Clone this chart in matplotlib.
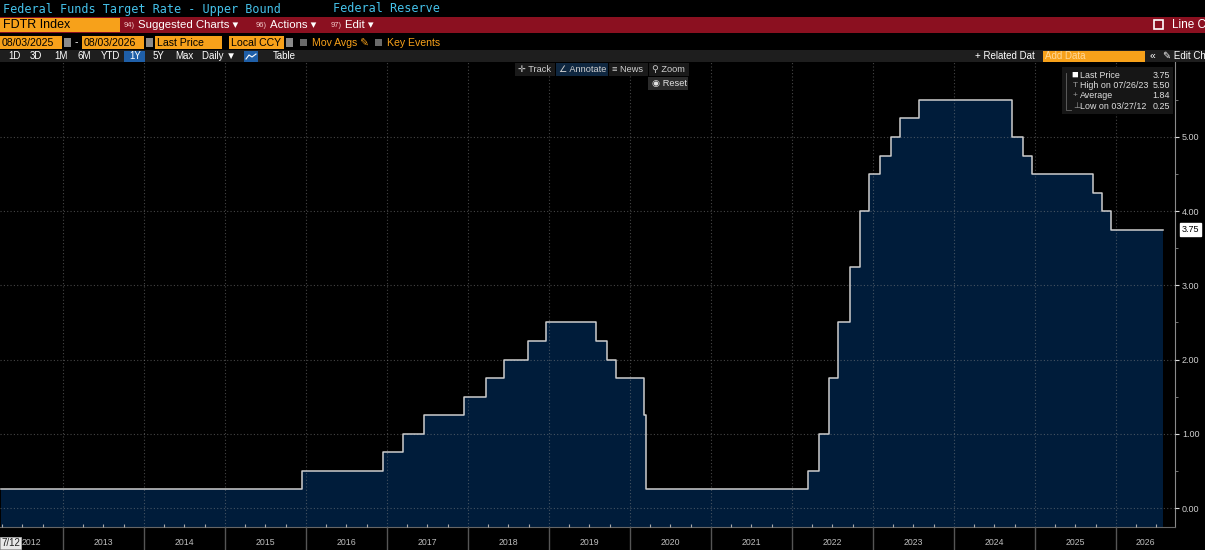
import numpy as np
import matplotlib
matplotlib.use("Agg")
import matplotlib.pyplot as plt
import matplotlib.dates as mdates
from matplotlib.patches import Rectangle
from matplotlib.ticker import NullFormatter, FixedLocator, FormatStrFormatter
from matplotlib.transforms import blended_transform_factory

plt.rcParams['font.family'] = ['Liberation Sans', 'DejaVu Sans']

# FDTR Index (upper bound): date of each change and the new level
change_dates = ["2012-03-27", "2015-12-16", "2016-12-14", "2017-03-15", "2017-06-14",
                "2017-12-13", "2018-03-21", "2018-06-13", "2018-09-26", "2018-12-19",
                "2019-07-31", "2019-09-18", "2019-10-30", "2020-03-03", "2020-03-15",
                "2022-03-16", "2022-05-04", "2022-06-15", "2022-07-27", "2022-09-21",
                "2022-11-02", "2022-12-14", "2023-02-01", "2023-03-22", "2023-05-03",
                "2023-07-26", "2024-09-18", "2024-11-07", "2024-12-18", "2025-09-17",
                "2025-10-29", "2025-12-10"]
rates = [0.25, 0.50, 0.75, 1.00, 1.25,
         1.50, 1.75, 2.00, 2.25, 2.50,
         2.25, 2.00, 1.75, 1.25, 0.25,
         0.50, 1.00, 1.75, 2.50, 3.25,
         4.00, 4.50, 4.75, 5.00, 5.25,
         5.50, 5.00, 4.75, 4.50, 4.25,
         4.00, 3.75]
end_date = "2026-08-03"

year_labels = list(range(2012, 2027))
y_ticks = [0, 1, 2, 3, 4, 5]

legend_rows = [("Last Price", "3.75"), ("High on 07/26/23", "5.50"),
               ("Average", "1.84"), ("Low on 03/27/12", "0.25")]
last_price = 3.75

W, H = 1205, 550
CYAN = '#45c2ea'
ORANGE = '#f7a11a'
RED = '#8b1020'

fig = plt.figure(figsize=(W / 100, H / 100), dpi=100, facecolor='black')

# ---- main chart ----
ax = fig.add_axes([0, (H - 527) / H, 1175 / W, (527 - 62) / H])
ax.set_facecolor('black')

x = mdates.date2num(np.array(change_dates + [end_date], dtype='datetime64[D]'))
y = np.array(rates + [rates[-1]])
ax.fill_between(x, y, -1, step='post', color='#001c3a', lw=0, zorder=1)
ax.step(x, y, where='post', color='#cdcdcd', lw=1.1, zorder=3)

x0 = mdates.datestr2num('2012-03-22')
x1 = mdates.datestr2num('2026-09-24')
ax.set_xlim(x0, x1)
ax.set_ylim(-0.256, 6.01)

ax.set_axisbelow(False)
ax.xaxis.set_major_locator(mdates.YearLocator())
ax.xaxis.set_minor_locator(mdates.MonthLocator(bymonth=[4, 7, 10]))
ax.xaxis.set_major_formatter(NullFormatter())
ax.tick_params(axis='x', which='major', direction='out', length=17, color='#555555', width=1)
ax.tick_params(axis='x', which='minor', direction='in', length=2.5, color='#aaaaaa', width=0.8)

ax.yaxis.tick_right()
ax.yaxis.set_major_locator(FixedLocator(y_ticks))
ax.yaxis.set_minor_locator(FixedLocator([v + 0.5 for v in [-1] + y_ticks]))
ax.yaxis.set_major_formatter(FormatStrFormatter('%.2f'))
ax.tick_params(axis='y', which='major', direction='out', length=3, color='#e0e0e0',
               labelsize=6.5, labelcolor='#cfcfcf', pad=2)
ax.tick_params(axis='y', which='minor', direction='out', length=2, color='#888888')

ax.grid(True, which='major', color='#8a8a8a', alpha=0.5, ls=(0, (1, 2)), lw=0.8)

for side in ['top', 'left']:
    ax.spines[side].set_visible(False)
ax.spines['right'].set_color('#8a8a8a')
ax.spines['bottom'].set_color('#666666')

# year labels centred in the visible part of each year
trans = blended_transform_factory(ax.transData, ax.transAxes)
for yr in year_labels:
    a = max(mdates.datestr2num(f"{yr}-01-01"), x0)
    b = min(mdates.datestr2num(f"{yr + 1}-01-01"), x1)
    ax.text((a + b) / 2, -0.034, str(yr), transform=trans, ha='center', va='center',
            color='#bdbdbd', fontsize=6.3)

# last price tag
ytrans = blended_transform_factory(ax.transAxes, ax.transData)
ax.text(1.006, last_price, f"{last_price:.2f}", transform=ytrans, ha='left', va='center',
        fontsize=6.5, color='black',
        bbox=dict(boxstyle='square,pad=0.2', fc='white', ec='white'), clip_on=False)

# ---- terminal chrome ----
ui = fig.add_axes([0, 0, 1, 1], zorder=10)
ui.set_xlim(0, W)
ui.set_ylim(H, 0)
ui.axis('off')
ui.patch.set_alpha(0)


def box(x, y, w, h, color):
    ui.add_patch(Rectangle((x, y), w, h, fc=color, ec='none', lw=0))


def txt(x, y, s, color='white', size=8, **kw):
    ui.text(x, y, s, color=color, fontsize=size, va='center', **kw)


# row 1
txt(3, 9, "Federal Funds Target Rate - Upper Bound", CYAN, 8.5, family='DejaVu Sans Mono')
txt(333, 9, "Federal Reserve", CYAN, 8.5, family='DejaVu Sans Mono')

# row 2
box(0, 17, W, 16, RED)
box(0, 18, 120, 14, ORANGE)
txt(3, 25, "FDTR Index", 'black', 9)
for xs, num, label in [(124, "94)", "Suggested Charts ▾"), (256, "96)", "Actions ▾"),
                       (331, "97)", "Edit ▾")]:
    txt(xs, 25.5, num, '#f2c9c9', 5.5)
    txt(xs + 14, 25, label, 'white', 8.2)
ui.add_patch(Rectangle((1154, 20), 9, 9, fc='none', ec='white', lw=1.2))
txt(1172, 25, "Line C", 'white', 8.5)

# row 3
for xs, w, label in [(0, 62, "08/03/2025"), (82, 62, "08/03/2026"),
                     (155, 67, "Last Price"), (229, 55, "Local CCY")]:
    box(xs, 36, w, 13, ORANGE)
    txt(xs + 2, 42.5, label, 'black', 7.6)
for xs in [64, 146, 286]:
    box(xs, 38, 7, 9, '#8a8a8a')
txt(75, 42.5, "-", 'white', 7.5)
box(300, 39, 7, 7, '#6a6a6a')
txt(312, 42.5, "Mov Avgs ✎", ORANGE, 7.6)
box(375, 39, 7, 7, '#6a6a6a')
txt(387, 42.5, "Key Events", ORANGE, 7.6)

# row 4
box(0, 50, W, 12, '#1e1e1e')
for xs, label in [(8, "1D"), (30, "3D"), (54, "1M"), (78, "6M"), (101, "YTD"),
                  (153, "5Y"), (175, "Max"), (202, "Daily ▼"), (273, "Table")]:
    txt(xs, 56, label, 'white', 7)
box(124, 51, 21, 11, '#1f5fa8')
txt(129, 56, "1Y", 'white', 7)
box(244, 51, 14, 11, '#1f5fa8')
ui.plot([246, 249, 252, 256], [59, 55, 57, 54], color='white', lw=0.8)
txt(975, 56, "+ Related Dat", 'white', 7)
box(1043, 50.5, 102, 11, ORANGE)
txt(1045, 56, "Add Data", '#ffd89a', 7)
txt(1150, 56, "«", 'white', 7.5)
txt(1163, 56, "✎ Edit Ch", 'white', 7)

# chart toolbar
for xs, w, fc, label in [(515, 40, '#1a1a1a', "✛ Track"), (556, 52, '#0f2740', "∠ Annotate"),
                         (609, 39, '#1a1a1a', "≡ News"), (649, 40, '#1a1a1a', "⚲ Zoom")]:
    box(xs, 63, w, 13, fc)
    txt(xs + 3, 69.5, label, '#d0d0d0', 6.7)
box(648, 77, 40, 13, '#2b2b2b')
txt(652, 83.5, "◉ Reset", '#e0e0e0', 6.7)

# legend box
box(1062, 67, 111, 47, '#161616')
marks = ["■", "T", "+", "⊥"]
for i, ((label, val), m) in enumerate(zip(legend_rows, marks)):
    yy = 75 + i * 10.5
    txt(1071 if i == 0 else 1073, yy, m, 'white' if i == 0 else '#9a9a9a', 8 if i == 0 else 6)
    txt(1080, yy, label, '#e0e0e0', 6.4)
    txt(1170, yy, val, '#e0e0e0', 6.4, ha='right')
ui.plot([1066, 1066, 1071], [73, 110, 110], color='#666666', lw=0.6)

# start-date tag at bottom left
ui.text(1, 543, "7/12", color='#202020', fontsize=7, va='center',
        bbox=dict(boxstyle='square,pad=0.1', fc='#e8e8e8', ec='#bbbbbb', lw=0.5))

fig.savefig("out.png", dpi=100, facecolor='black')
